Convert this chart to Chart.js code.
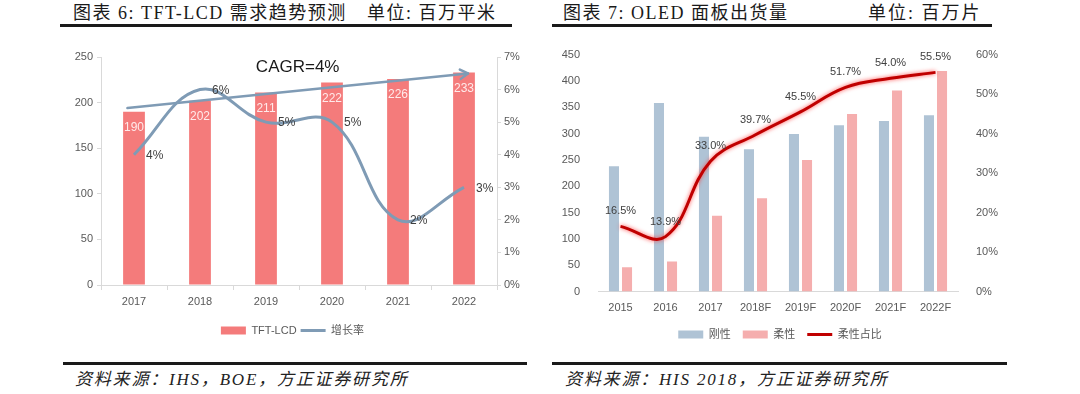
<!DOCTYPE html>
<html><head><meta charset="utf-8">
<script src="https://cdn.jsdelivr.net/npm/chart.js@4.4.1/dist/chart.umd.min.js"></script>
<style>
html,body{margin:0;padding:0;background:#fff;width:1080px;height:394px;overflow:hidden;position:relative;}
.abs{position:absolute;}
.title{font-family:"Liberation Serif","Noto Sans CJK SC",serif;font-size:18px;color:#1a1a1a;letter-spacing:1.5px;white-space:nowrap;line-height:20px;}
.rule{background:#1a1a1a;height:3px;}
.src{font-family:"Liberation Serif","Noto Sans CJK SC",serif;font-style:italic;font-size:17px;color:#222;white-space:nowrap;letter-spacing:1.8px;line-height:20px;}
</style></head><body>
<div class="abs title" style="left:73px;top:3px">图表 6: TFT-LCD 需求趋势预测</div>
<div class="abs title" style="left:367px;top:3px">单位: 百万平米</div>
<div class="abs rule" style="left:60px;top:24px;width:452px"></div>
<div class="abs title" style="left:563px;top:3px">图表 7: OLED 面板出货量</div>
<div class="abs title" style="left:868px;top:3px;letter-spacing:2px">单位: 百万片</div>
<div class="abs rule" style="left:552px;top:24px;width:440px"></div>

<div class="abs" style="left:60px;top:38px;width:465px;height:310px"><canvas id="c1" width="465" height="310"></canvas></div>
<div class="abs" style="left:550px;top:38px;width:460px;height:312px"><canvas id="c2" width="460" height="312"></canvas></div>

<div class="abs rule" style="left:63px;top:362px;width:464px"></div>
<div class="abs rule" style="left:552px;top:362px;width:455px"></div>
<div class="abs src" style="left:75px;top:370px">资料来源：IHS，BOE，方正证券研究所</div>
<div class="abs src" style="left:565px;top:370px">资料来源：HIS 2018，方正证券研究所</div>

<script>
// ---- Chart 6 data ----
const lcdYears = ['2017','2018','2019','2020','2021','2022'];
const lcdDemand = [190, 202, 211, 222, 226, 233];
const lcdGrowth = [4, 6, 5, 5, 2, 3];
const lcdLeftTicks = [0, 250, 50];
const lcdRightTicks = [0, 7, 1];
const cagrArrow = [[-0.1, 194], [5.06, 232]];
const cagrLabel = 'CAGR=4%';

// ---- Chart 7 data ----
const oledYears = ['2015','2016','2017','2018F','2019F','2020F','2021F','2022F'];
const oledRigid = [238, 358, 294, 270, 299, 316, 324, 335];
const oledFlexible = [46, 57, 144, 177, 250, 337, 382, 419];
const oledFlexShare = [16.5, 13.9, 33.0, 39.7, 45.5, 51.7, 54.0, 55.5];
const oledLeftTicks = [0, 450, 50];
const oledRightTicks = [0, 60, 10];

const FONT = '"Liberation Sans","Noto Sans CJK SC",sans-serif';
const GREY = '#595959';
const AXIS = '#d9d9d9';

const lcdPlugin = {
  id: 'lcdPlugin',
  afterDatasetsDraw(chart) {
    const ctx = chart.ctx;
    const xs = chart.scales.x, ys = chart.scales.y;
    ctx.save();
    ctx.textAlign = 'center'; ctx.textBaseline = 'middle';
    ctx.font = '12px ' + FONT;
    ctx.fillStyle = '#ffeaea';
    chart.getDatasetMeta(0).data.forEach((b, i) => ctx.fillText(String(lcdDemand[i]), b.x, b.y + 16));
    ctx.fillStyle = '#404040';
    ctx.textAlign = 'left';
    chart.getDatasetMeta(1).data.forEach((p, i) => ctx.fillText(lcdGrowth[i] + '%', p.x + 12, p.y + 1));
    // CAGR arrow
    const x0 = xs.getPixelForValue(cagrArrow[0][0]), y0 = ys.getPixelForValue(cagrArrow[0][1]);
    const x1 = xs.getPixelForValue(cagrArrow[1][0]), y1 = ys.getPixelForValue(cagrArrow[1][1]);
    ctx.strokeStyle = '#7f9bb5'; ctx.lineWidth = 2.5; ctx.lineCap = 'round'; ctx.lineJoin = 'round';
    ctx.beginPath(); ctx.moveTo(x0, y0); ctx.lineTo(x1, y1); ctx.stroke();
    const ang = Math.atan2(y1 - y0, x1 - x0), L = 9;
    ctx.beginPath();
    ctx.moveTo(x1 - L * Math.cos(ang - 0.55), y1 - L * Math.sin(ang - 0.55));
    ctx.lineTo(x1, y1);
    ctx.lineTo(x1 - L * Math.cos(ang + 0.55), y1 - L * Math.sin(ang + 0.55));
    ctx.stroke();
    ctx.fillStyle = '#1a1a1a'; ctx.textAlign = 'center';
    ctx.font = '17px ' + FONT;
    ctx.fillText(cagrLabel, (x0 + x1) / 2, (y0 + y1) / 2 - 23);
    ctx.restore();
  }
};

new Chart(document.getElementById('c1'), {
  data: {
    labels: lcdYears,
    datasets: [
      {type: 'bar', label: 'TFT-LCD', data: lcdDemand, backgroundColor: '#F47B7B', yAxisID: 'y', order: 1,
       categoryPercentage: 1, barPercentage: 0.33, pointStyle: 'rect'},
      {type: 'line', label: '增长率', data: lcdGrowth, borderColor: '#7f9bb5', backgroundColor: '#7f9bb5',
       borderWidth: 3, pointRadius: 0, tension: 0.4, yAxisID: 'y1', order: 0, pointStyle: 'line'}
    ]
  },
  options: {
    responsive: false, animation: false,
    layout: {padding: {top: 19, left: 0, right: 0, bottom: 2}},
    plugins: {
      legend: {position: 'bottom', labels: {usePointStyle: true, pointStyleWidth: 25, boxHeight: 8, padding: 4,
        color: GREY, font: {size: 11, family: FONT}, sort: (a, b) => a.datasetIndex - b.datasetIndex}},
      tooltip: {enabled: false}
    },
    scales: {
      x: {grid: {offset: true, drawOnChartArea: false, tickLength: 5, color: AXIS}, border: {color: AXIS},
          ticks: {color: GREY, font: {size: 11, family: FONT}, padding: 5}, afterFit: s => { s.height = 36; }},
      y: {position: 'left', min: lcdLeftTicks[0], max: lcdLeftTicks[1],
          ticks: {stepSize: lcdLeftTicks[2], color: GREY, font: {size: 11, family: FONT}, padding: 4},
          grid: {drawOnChartArea: false, tickLength: 4, color: AXIS}, border: {color: AXIS},
          afterFit: s => { s.width = 41; }},
      y1: {position: 'right', min: lcdRightTicks[0], max: lcdRightTicks[1],
          ticks: {stepSize: lcdRightTicks[2], callback: v => v + '%', color: GREY, font: {size: 11, family: FONT}, padding: 3},
          grid: {drawOnChartArea: false, tickLength: 4, color: AXIS}, border: {color: AXIS},
          afterFit: s => { s.width = 28; }}
    }
  },
  plugins: [lcdPlugin]
});

const oledPlugin = {
  id: 'oledPlugin',
  beforeDatasetDraw(chart, args) {
    if (args.index === 2) {
      chart.ctx.save();
      chart.ctx.shadowColor = 'rgba(255,60,60,0.9)';
      chart.ctx.shadowBlur = 4;
    }
  },
  afterDatasetDraw(chart, args) {
    if (args.index === 2) chart.ctx.restore();
  },
  afterDatasetsDraw(chart) {
    const ctx = chart.ctx;
    ctx.save();
    ctx.font = '11px ' + FONT; ctx.fillStyle = '#404040';
    ctx.textAlign = 'center'; ctx.textBaseline = 'middle';
    chart.getDatasetMeta(2).data.forEach((p, i) => ctx.fillText(oledFlexShare[i].toFixed(1) + '%', p.x, p.y - 15));
    ctx.restore();
  }
};

new Chart(document.getElementById('c2'), {
  data: {
    labels: oledYears,
    datasets: [
      {type: 'bar', label: '刚性', data: oledRigid, backgroundColor: '#AFC3D5', yAxisID: 'y', order: 1,
       categoryPercentage: 0.58, barPercentage: 0.77, pointStyle: 'rect'},
      {type: 'bar', label: '柔性', data: oledFlexible, backgroundColor: '#F5AEAE', yAxisID: 'y', order: 1,
       categoryPercentage: 0.58, barPercentage: 0.77, pointStyle: 'rect'},
      {type: 'line', label: '柔性占比', data: oledFlexShare, borderColor: '#C00000', backgroundColor: '#C00000',
       borderWidth: 3, pointRadius: 0, tension: 0.4, yAxisID: 'y1', order: 0, pointStyle: 'line'}
    ]
  },
  options: {
    responsive: false, animation: false,
    layout: {padding: {top: 15, left: 0, right: 0, bottom: 0}},
    plugins: {
      legend: {position: 'bottom', labels: {usePointStyle: true, pointStyleWidth: 25, boxHeight: 8, padding: 12,
        color: GREY, font: {size: 11, family: FONT}, sort: (a, b) => a.datasetIndex - b.datasetIndex}},
      tooltip: {enabled: false}
    },
    scales: {
      x: {grid: {drawOnChartArea: false, drawTicks: false, color: AXIS}, border: {color: AXIS},
          ticks: {color: GREY, font: {size: 11, family: FONT}, padding: 10}, afterFit: s => { s.height = 25.5; }},
      y: {position: 'left', min: oledLeftTicks[0], max: oledLeftTicks[1],
          ticks: {stepSize: oledLeftTicks[2], color: GREY, font: {size: 11, family: FONT}, padding: 10},
          grid: {display: false}, border: {display: false}, afterFit: s => { s.width = 48; }},
      y1: {position: 'right', min: oledRightTicks[0], max: oledRightTicks[1],
          ticks: {stepSize: oledRightTicks[2], callback: v => v + '%', color: GREY, font: {size: 11, family: FONT}, padding: 10},
          grid: {display: false}, border: {display: false}, afterFit: s => { s.width = 52; }}
    }
  },
  plugins: [oledPlugin]
});
</script>
</body></html>
